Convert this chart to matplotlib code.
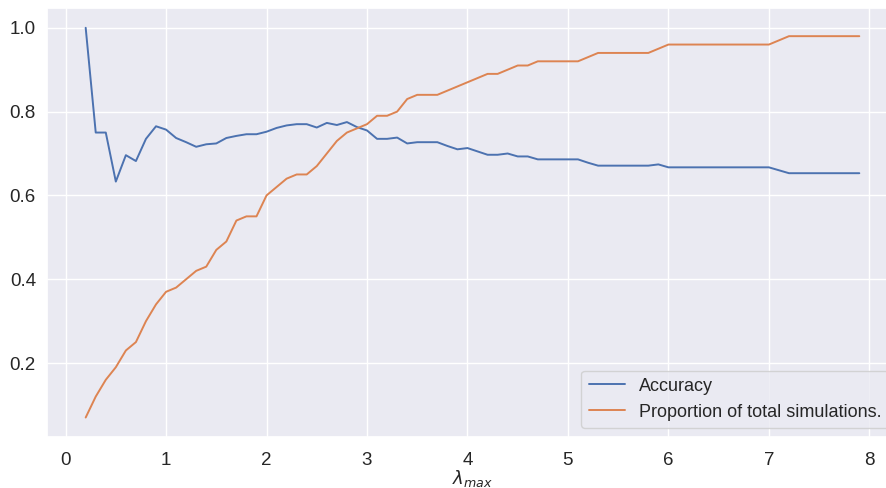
import matplotlib
matplotlib.use("Agg")
import matplotlib.pyplot as plt
import seaborn as sns

lam_max = [0.2, 0.3, 0.4, 0.5, 0.6, 0.7, 0.8, 0.9, 1.0, 1.1, 1.2, 1.3, 1.4, 1.5, 1.6,
           1.7, 1.8, 1.9, 2.0, 2.1, 2.2, 2.3, 2.4, 2.5, 2.6, 2.7, 2.8, 2.9, 3.0, 3.1,
           3.2, 3.3, 3.4, 3.5, 3.6, 3.7, 3.8, 3.9, 4.0, 4.1, 4.2, 4.3, 4.4, 4.5, 4.6,
           4.7, 4.8, 4.9, 5.0, 5.1, 5.2, 5.3, 5.4, 5.5, 5.6, 5.7, 5.8, 5.9, 6.0, 6.1,
           6.2, 6.3, 6.4, 6.5, 6.6, 6.7, 6.8, 6.9, 7.0, 7.1, 7.2, 7.3, 7.4, 7.5, 7.6,
           7.7, 7.8, 7.9]

accuracy = [1.000, 0.750, 0.750, 0.633, 0.696, 0.682, 0.735, 0.765, 0.757, 0.737,
            0.727, 0.716, 0.722, 0.724, 0.737, 0.742, 0.746, 0.746, 0.752, 0.761,
            0.767, 0.770, 0.770, 0.762, 0.773, 0.768, 0.775, 0.763, 0.755, 0.735,
            0.735, 0.738, 0.724, 0.727, 0.727, 0.727, 0.718, 0.710, 0.713, 0.705,
            0.697, 0.697, 0.700, 0.693, 0.693, 0.686, 0.686, 0.686, 0.686, 0.686,
            0.678, 0.671, 0.671, 0.671, 0.671, 0.671, 0.671, 0.674, 0.667, 0.667,
            0.667, 0.667, 0.667, 0.667, 0.667, 0.667, 0.667, 0.667, 0.667, 0.660,
            0.653, 0.653, 0.653, 0.653, 0.653, 0.653, 0.653, 0.653]

proportion = [0.07, 0.12, 0.16, 0.19, 0.23, 0.25, 0.30, 0.34, 0.37, 0.38,
              0.40, 0.42, 0.43, 0.47, 0.49, 0.54, 0.55, 0.55, 0.60, 0.62,
              0.64, 0.65, 0.65, 0.67, 0.70, 0.73, 0.75, 0.76, 0.77, 0.79,
              0.79, 0.80, 0.83, 0.84, 0.84, 0.84, 0.85, 0.86, 0.87, 0.88,
              0.89, 0.89, 0.90, 0.91, 0.91, 0.92, 0.92, 0.92, 0.92, 0.92,
              0.93, 0.94, 0.94, 0.94, 0.94, 0.94, 0.94, 0.95, 0.96, 0.96,
              0.96, 0.96, 0.96, 0.96, 0.96, 0.96, 0.96, 0.96, 0.96, 0.97,
              0.98, 0.98, 0.98, 0.98, 0.98, 0.98, 0.98, 0.98]

series_labels = ["Accuracy", "Proportion of total simulations."]

sns.set_theme(style="darkgrid")
plt.rcParams['font.family'] = ['Liberation Sans', 'DejaVu Sans']

W, H = 887, 488
fig = plt.figure(figsize=(W / 100, H / 100), dpi=100)
left, right, top, bottom = 47, 898, 8.3, 437
ax = fig.add_axes([left / W, (H - bottom) / H, (right - left) / W, (bottom - top) / H])

pal = sns.color_palette()
ax.plot(lam_max, accuracy, color=pal[0], lw=1.4, label=series_labels[0])
ax.plot(lam_max, proportion, color=pal[1], lw=1.4, label=series_labels[1])

ax.set_xticks([0, 1, 2, 3, 4, 5, 6, 7, 8])
ax.set_yticks([0.2, 0.4, 0.6, 0.8, 1.0])
ax.tick_params(axis="y", labelsize=13.5, pad=2)
ax.tick_params(axis="x", labelsize=13.5, pad=5)
ax.set_xlabel(r"$\lambda_{max}$", fontsize=13, labelpad=-1)
ax.legend(loc="lower right", fontsize=13)

fig.savefig("out.png", dpi=100)
